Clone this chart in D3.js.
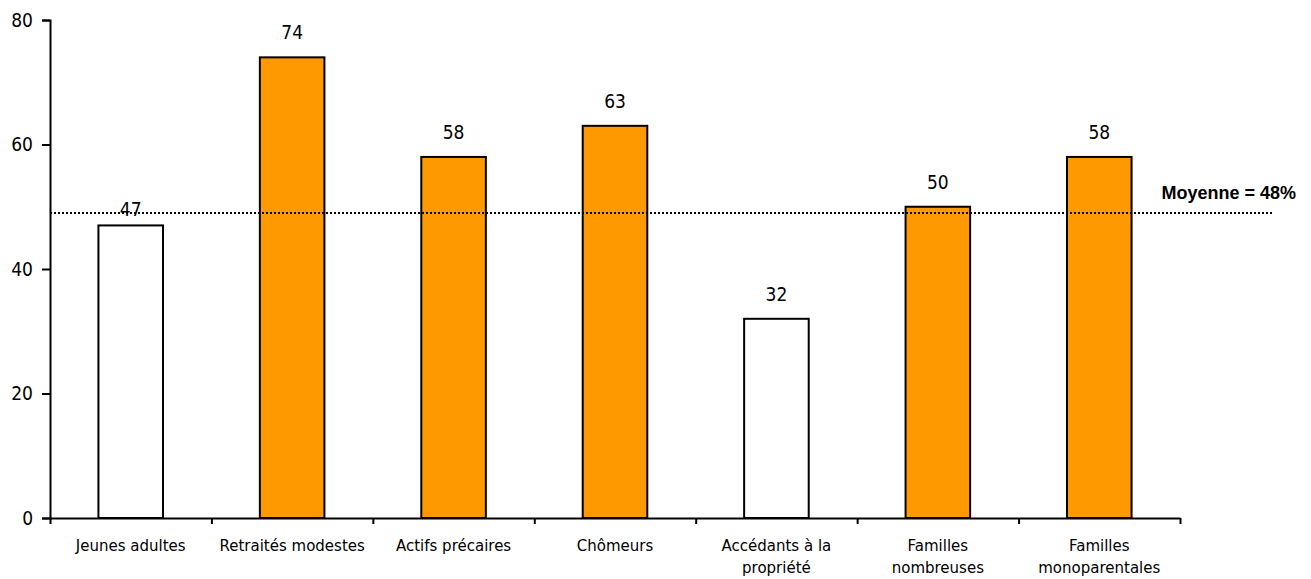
<!DOCTYPE html>
<html><head><meta charset="utf-8">
<script src="https://cdn.jsdelivr.net/npm/d3@7"></script>
<style>body{margin:0;background:#fff}svg{display:block}</style>
</head><body>
<svg id="c" width="1311" height="579"></svg>
<script>
const categories = [["Jeunes adultes"],["Retraités modestes"],["Actifs précaires"],["Chômeurs"],["Accédants à la","propriété"],["Familles","nombreuses"],["Familles","monoparentales"]];
const values = [47,74,58,63,32,50,58];
const highlighted = [false,true,true,true,false,true,true];
const yTicks = [0,20,40,60,80];
const averageValue = 49;
const averageLabel = "Moyenne = 48%";

const svg = d3.select("#c");
const x0 = 50, x1 = 1180, yTop = 20, yBot = 518;
const x = d3.scaleBand().domain(d3.range(values.length)).range([x0,x1]).paddingInner(0.6).paddingOuter(0.3);
const y = d3.scaleLinear().domain([0,80]).range([yBot,yTop]);
const font = "Tahoma, 'DejaVu Sans', sans-serif";
const numFont = "'DejaVu Sans Condensed', 'DejaVu Sans', sans-serif";

// bars
svg.selectAll("rect.bar").data(values).join("rect")
  .attr("x",(d,i)=>x(i)).attr("y",d=>y(d))
  .attr("width",x.bandwidth()).attr("height",d=>y(0)-y(d))
  .attr("fill",(d,i)=>highlighted[i]?"#FF9900":"#fff")
  .attr("stroke","#000").attr("stroke-width",2);

// average line
svg.append("line").attr("x1",x0).attr("x2",1272).attr("y1",y(averageValue)).attr("y2",y(averageValue))
  .attr("stroke","#000").attr("stroke-width",2).attr("stroke-dasharray","2,2");
svg.append("text").attr("x",1296).attr("y",y(averageValue)-14).attr("text-anchor","end")
  .attr("font-family","'Liberation Sans', Arial, sans-serif").attr("font-weight","bold").attr("font-size",18)
  .text(averageLabel);

// value labels
svg.selectAll("text.val").data(values).join("text")
  .attr("x",(d,i)=>x(i)+x.bandwidth()/2).attr("y",(d,i)=>y(d)-(i===0?9:18))
  .attr("text-anchor","middle").attr("font-family",numFont).attr("font-size",19).attr("fill","#000")
  .text(d=>d);

// y axis
const yAxis = svg.append("g").attr("transform",`translate(${x0},0)`)
  .call(d3.axisLeft(y).tickValues(yTicks).tickSize(8).tickPadding(9));
yAxis.select(".domain").attr("stroke-width",2);
yAxis.selectAll(".tick line").attr("stroke-width",2);
yAxis.selectAll("text").attr("font-family",numFont).attr("font-size",19).attr("fill","#000");

// x axis
const xb = d3.scaleLinear().domain([0,values.length]).range([x0,x1]);
const xAxis = svg.append("g").attr("transform",`translate(0,${yBot})`)
  .call(d3.axisBottom(xb).tickValues(d3.range(values.length+1)).tickSize(6).tickSizeOuter(0).tickFormat(""));
xAxis.select(".domain").attr("stroke-width",2);
xAxis.selectAll(".tick line").attr("stroke-width",2);

// category labels
const cat = svg.selectAll("text.cat").data(categories).join("text")
  .attr("text-anchor","middle").attr("font-family",font).attr("font-size",15).attr("fill","#000");
cat.each(function(lines,i){
  d3.select(this).selectAll("tspan").data(lines).join("tspan")
    .attr("x",x(i)+x.bandwidth()/2).attr("y",(l,j)=>551+j*22).text(l=>l);
});
</script>
</body></html>
